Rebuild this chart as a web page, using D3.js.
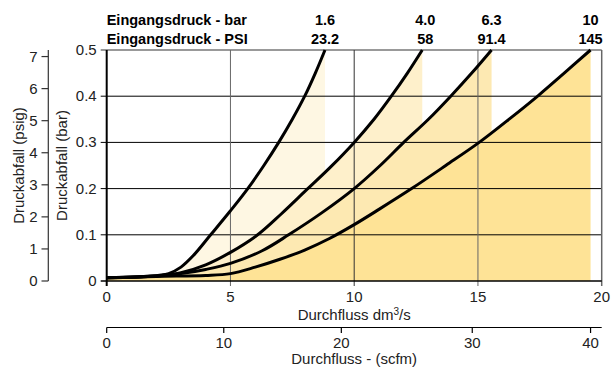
<!DOCTYPE html>
<html><head><meta charset="utf-8">
<script src="https://cdn.jsdelivr.net/npm/d3@7"></script>
<style>
html,body{margin:0;padding:0;background:#fff;}
text{font-family:"Liberation Sans",Arial,Helvetica,sans-serif;}
</style></head>
<body>
<svg id="c" width="611" height="367"></svg>
<script>
// ---- data ----
const pressuresBar = ["1.6", "4.0", "6.3", "10"];
const pressuresPsi = ["23.2", "58", "91.4", "145"];
// flow dm3/s, pressure drop bar
const curve16 = [[0,0.007],[1.5,0.01],[2.5,0.016],[3,0.03],[3.5,0.055],[4.2,0.1],[5,0.152],[5.7,0.2],[6.35,0.25],[6.95,0.3],[7.5,0.35],[8.0,0.4],[8.43,0.45],[8.82,0.5]];
const curve40 = [[0,0.007],[2,0.011],[3,0.018],[4,0.035],[5,0.062],[6.1,0.1],[7.05,0.145],[8.05,0.196],[9.05,0.247],[10,0.3],[10.8,0.35],[11.5,0.4],[12.15,0.45],[12.75,0.5]];
const curve63 = [[0,0.007],[2,0.011],[3,0.016],[4,0.025],[5,0.038],[6.3,0.066],[7.35,0.1],[8.7,0.148],[10,0.2],[11.05,0.25],[12,0.3],[13,0.35],[13.9,0.4],[14.75,0.45],[15.55,0.5]];
const curve100 = [[0,0.007],[2,0.01],[4,0.012],[5,0.016],[6,0.03],[7,0.047],[8,0.067],[9,0.092],[10,0.122],[11,0.155],[12.32,0.2],[13.7,0.25],[15.05,0.3],[16.3,0.352],[17.45,0.402],[18.53,0.452],[19.55,0.5]];
const curves = [curve16, curve40, curve63, curve100];
const fillColors = ["#fef7e3", "#fef0cb", "#fde9b2", "#fee396"];
const xTicks = [0, 5, 10, 15, 20];
const yTicks = [0, 0.1, 0.2, 0.3, 0.4, 0.5];
const psigTicks = [0, 1, 2, 3, 4, 5, 6, 7];
const scfmTicks = [0, 10, 20, 30, 40];
const scfmInDm3s = [0, 4.73, 9.48, 14.77, 19.55]; // position of scfm ticks on dm3/s scale
const barPerPsiAxis = 0.0694;

// ---- scales ----
const svg = d3.select("#c");
const x = d3.scaleLinear().domain([0, 20]).range([106.7, 601.7]);
const y = d3.scaleLinear().domain([0, 0.5]).range([281, 50]);
const yPsi = d3.scaleLinear().domain([0, 7]).range([y(0), y(7 * barPerPsiAxis)]);
const xScfm = d3.scaleLinear().domain(scfmTicks).range(scfmInDm3s.map(v => x(v)));
const crv = d3.curveCatmullRom.alpha(0.5);

// ---- fills ----
const area = d3.area().x(d => x(d[0])).y0(y(0)).y1(d => y(d[1])).curve(crv);
curves.forEach((c, i) => {
  svg.append("path").attr("d", area(c)).attr("fill", fillColors[i]);
});

// ---- grid ----
const g = svg.append("g");
yTicks.forEach(t => {
  if (t === 0) return;
  g.append("line").attr("x1", x(0) - 6).attr("x2", x(20)).attr("y1", y(t)).attr("y2", y(t))
    .attr("stroke", t === 0.5 ? "#777" : "#000").attr("stroke-width", t === 0.5 ? 1.5 : 1);
});
xTicks.forEach(t => {
  g.append("line").attr("x1", x(t)).attr("x2", x(t)).attr("y1", y(0.5)).attr("y2", y(0) + 5)
    .attr("stroke", t === 0 ? "#000" : (t === 10 ? "#333" : "#666"))
    .attr("stroke-width", t === 0 ? 2 : (t === 20 ? 1.5 : 1));
});
g.append("line").attr("x1", x(0) - 6).attr("x2", x(20)).attr("y1", y(0)).attr("y2", y(0))
  .attr("stroke", "#000").attr("stroke-width", 1.5);

// ---- curves ----
const line = d3.line().x(d => x(d[0])).y(d => y(d[1])).curve(crv);
curves.forEach(c => {
  svg.append("path").attr("d", line(c)).attr("fill", "none").attr("stroke", "#000")
    .attr("stroke-width", 3).attr("stroke-linejoin", "round");
});

// ---- labels ----
const fs = 15;
yTicks.forEach(t => {
  svg.append("text").attr("x", x(0) - 10).attr("y", y(t) + 5).attr("text-anchor", "end")
    .attr("font-size", fs).attr("fill", "#222").text(t === 0 ? "0" : d3.format(".1f")(t));
});
const pg = svg.append("g");
pg.append("line").attr("x1", 48.3).attr("x2", 48.3).attr("y1", y(0.5)).attr("y2", y(0)).attr("stroke", "#333").attr("stroke-width", 1.2);
psigTicks.forEach(t => {
  pg.append("line").attr("x1", 41.5).attr("x2", 48.3).attr("y1", yPsi(t)).attr("y2", yPsi(t)).attr("stroke", "#333").attr("stroke-width", 1.2);
  pg.append("text").attr("x", 37.5).attr("y", yPsi(t) + 5).attr("text-anchor", "end")
    .attr("font-size", fs).attr("fill", "#222").text(t);
});
svg.append("text").attr("transform", `translate(24,${(y(0)+y(0.5))/2}) rotate(-90)`)
  .attr("text-anchor", "middle").attr("font-size", fs).attr("fill", "#222").text("Druckabfall (psig)");
svg.append("text").attr("transform", `translate(67,${(y(0)+y(0.5))/2}) rotate(-90)`)
  .attr("text-anchor", "middle").attr("font-size", fs).attr("fill", "#222").text("Druckabfall (bar)");

xTicks.forEach(t => {
  svg.append("text").attr("x", x(t)).attr("y", 302).attr("text-anchor", "middle")
    .attr("font-size", fs).attr("fill", "#222").text(t);
});
const t1 = svg.append("text").attr("x", x(10)).attr("y", 320).attr("text-anchor", "middle")
  .attr("font-size", fs).attr("fill", "#222");
t1.append("tspan").text("Durchfluss dm");
t1.append("tspan").attr("dy", -5).attr("font-size", 10).text("3");
t1.append("tspan").attr("dy", 5).text("/s");

const sg = svg.append("g");
sg.append("line").attr("x1", x(0)).attr("x2", x(20)).attr("y1", 327.5).attr("y2", 327.5).attr("stroke", "#000").attr("stroke-width", 1.2);
scfmTicks.forEach(t => {
  sg.append("line").attr("x1", xScfm(t)).attr("x2", xScfm(t)).attr("y1", 327.5).attr("y2", 333).attr("stroke", "#000").attr("stroke-width", 1.2);
  sg.append("text").attr("x", xScfm(t)).attr("y", 348).attr("text-anchor", "middle")
    .attr("font-size", fs).attr("fill", "#222").text(t);
});
svg.append("text").attr("x", x(10)).attr("y", 364).attr("text-anchor", "middle")
  .attr("font-size", fs).attr("fill", "#222").text("Durchfluss - (scfm)");

const hb = 14.5;
svg.append("text").attr("x", x(0)).attr("y", 24.5).attr("font-size", hb).attr("font-weight", "bold").text("Eingangsdruck - bar");
svg.append("text").attr("x", x(0)).attr("y", 43.5).attr("font-size", hb).attr("font-weight", "bold").text("Eingangsdruck - PSI");
curves.forEach((c, i) => {
  const ex = x(c[c.length - 1][0]) + (i === 1 ? 3 : 0);
  svg.append("text").attr("x", ex).attr("y", 24.5).attr("text-anchor", "middle").attr("font-size", hb).attr("font-weight", "bold").text(pressuresBar[i]);
  svg.append("text").attr("x", ex).attr("y", 43.5).attr("text-anchor", "middle").attr("font-size", hb).attr("font-weight", "bold").text(pressuresPsi[i]);
});
</script>
</body></html>
